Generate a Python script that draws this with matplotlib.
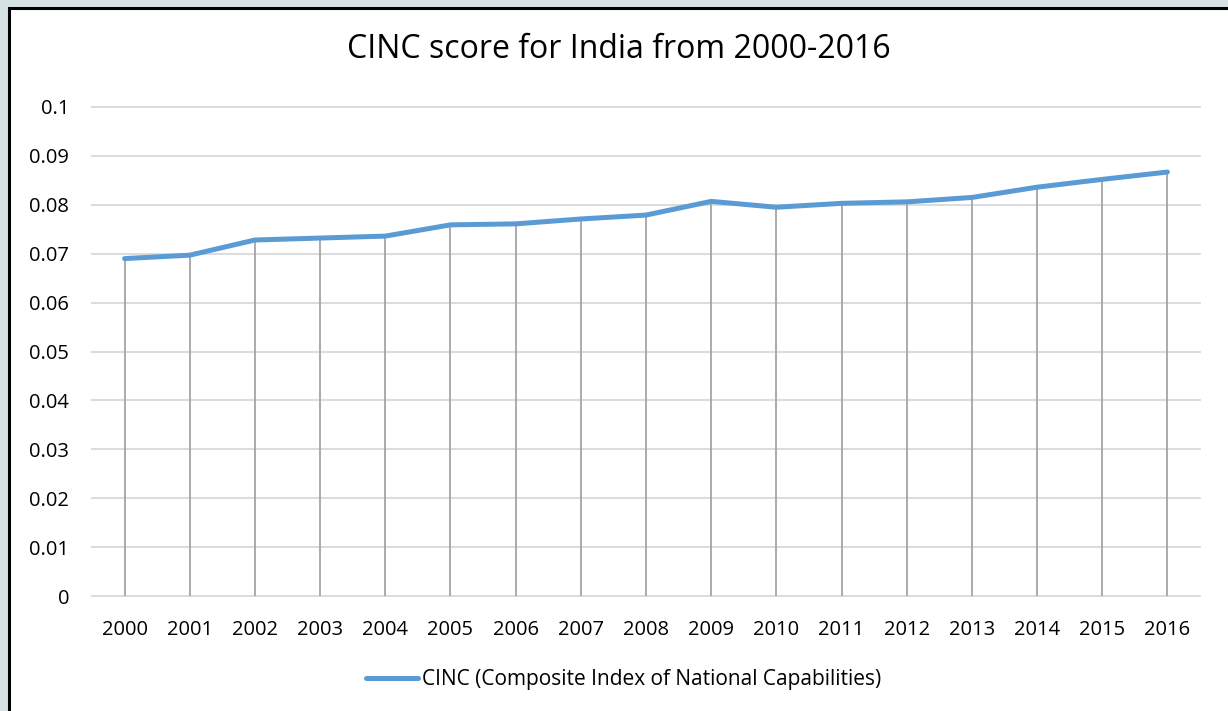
import matplotlib
matplotlib.use("Agg")
import matplotlib.pyplot as plt
from matplotlib.patches import Rectangle
from matplotlib.lines import Line2D

years = ["2000", "2001", "2002", "2003", "2004", "2005", "2006", "2007", "2008",
         "2009", "2010", "2011", "2012", "2013", "2014", "2015", "2016"]
cinc = [0.0690, 0.0697, 0.0728, 0.0732, 0.0736, 0.0759, 0.0761, 0.0771, 0.0779,
        0.0807, 0.0795, 0.0803, 0.0806, 0.0815, 0.0836, 0.0852, 0.0867]
yticks = [0, 0.01, 0.02, 0.03, 0.04, 0.05, 0.06, 0.07, 0.08, 0.09, 0.1]
ytick_labels = ["0", "0.01", "0.02", "0.03", "0.04", "0.05", "0.06", "0.07", "0.08", "0.09", "0.1"]
series_label = "CINC (Composite Index of National Capabilities)"
title = "CINC score for India from 2000-2016"

plt.rcParams['font.family'] = ['Open Sans', 'DejaVu Sans']

W, H = 1228, 711
fig = plt.figure(figsize=(W / 100, H / 100), dpi=100)
fig.patch.set_facecolor("#d7e1e4")

# chart frame
fig.patches.append(Rectangle((9 / W, -0.01), 1.02 - 9 / W, 1 - 8 / H + 0.01,
                             transform=fig.transFigure, facecolor="white",
                             edgecolor="black", linewidth=2.2, zorder=-5))

ax = fig.add_axes([92 / W, 1 - 596 / H, (1200 - 92) / W, (596 - 107) / H])
ax.set_zorder(2)
ax.set_facecolor("none")
x = list(range(len(years)))

ax.set_ylim(0, 0.1)
ax.set_xlim(-0.5, len(years) - 0.5)
ax.set_yticks(yticks)
ax.set_yticklabels(ytick_labels)
ax.set_xticks(x)
ax.set_xticklabels(years)
for yv in yticks:
    ax.axhline(yv, color="#d9d9d9", linewidth=1.3, zorder=1, clip_on=False)

ax.vlines(x, 0, cinc, color="#a5a5a5", linewidth=1.3, zorder=2)
ax.plot(x, cinc, color="#5b9bd5", linewidth=3.6, solid_capstyle="round",
        solid_joinstyle="round", zorder=3, clip_on=False)

for s in ax.spines.values():
    s.set_visible(False)
ax.tick_params(axis="both", length=0, labelsize=14.5, colors="black")
ax.tick_params(axis="y", pad=16.5)
ax.tick_params(axis="x", pad=17)

fig.text(619 / W, 1 - 50 / H, title, ha="center", va="center", fontsize=23)

handle = Line2D([], [], color="#5b9bd5", linewidth=3.6, solid_capstyle="round")
leg = fig.legend([handle], [series_label], loc="center", bbox_to_anchor=(624 / W, 1 - 680 / H),
                 frameon=False, fontsize=15, handlelength=2.5, handletextpad=0.2)
leg.set_zorder(3)

fig.savefig("out.png", dpi=100, facecolor=fig.get_facecolor())
